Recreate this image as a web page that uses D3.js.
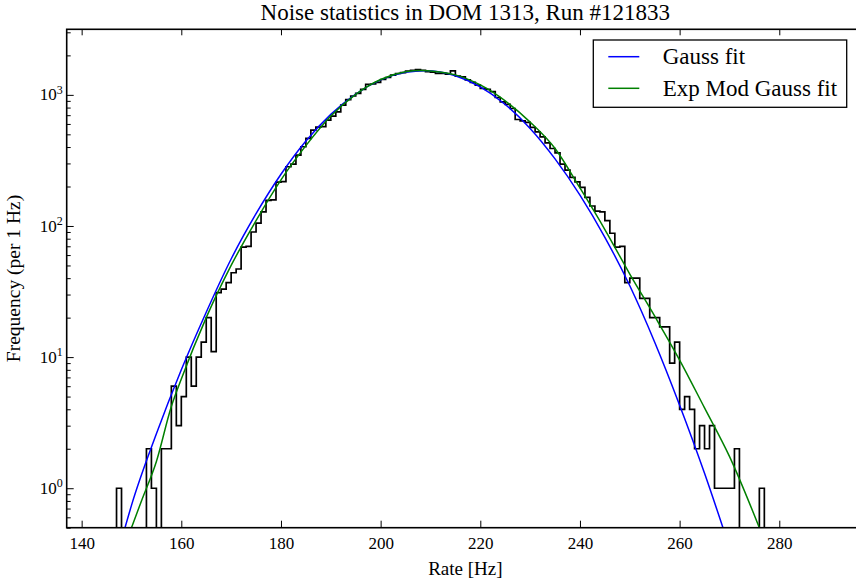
<!DOCTYPE html>
<html>
<head>
<meta charset="utf-8">
<script src="https://cdn.jsdelivr.net/npm/d3@7"></script>
<style>
  body { margin: 0; background: #fff; }
  text { font-family: "Liberation Serif", "Times New Roman", serif; fill: #000; }
</style>
</head>
<body>
<svg id="chart" width="856" height="585"></svg>
<script>
// histogram, 1 Hz bins, first bin starts at 147 Hz
var binStart = 147
var counts = [
  1, 0, 0, 0, 0, 0, 2, 1, 0, 2,
  2, 6, 3, 5, 10, 6, 10, 13, 20, 11,
  31, 33, 37, 44, 47, 69, 70, 90, 105, 128,
  157, 158, 216, 218, 283, 296, 347, 402, 465, 538,
  568, 572, 641, 688, 742, 834, 920, 980, 1025, 1100,
  1205, 1210, 1245, 1310, 1356, 1413, 1455, 1480, 1517, 1540,
  1555, 1540, 1500, 1490, 1460, 1460, 1440, 1525, 1390, 1370,
  1300, 1245, 1186, 1119, 1100, 1057, 955, 885, 845, 787,
  649, 633, 617, 565, 522, 479, 431, 390, 361, 296,
  267, 235, 217, 197, 165, 142, 130, 128, 110, 88,
  69, 70, 37, 40, 40, 28, 28, 20, 20, 17,
  17, 9, 13, 4, 5, 4, 2, 3, 2, 3,
  1, 1, 1, 1, 2, 0, 0, 0, 0, 1
]

// fit curves
var gaussX = [148.7, 150, 155, 160, 165, 170, 175, 180, 185, 190, 195, 200, 205, 209, 215, 220, 225, 230, 235, 240, 245, 250, 255, 260, 265, 268.7]
var gaussY = [0.5, 0.74, 2.6, 8.0, 22, 56, 124, 248, 445, 710, 1015, 1300, 1485, 1530, 1400, 1150, 845, 555, 325, 172, 82, 35, 13, 4.3, 1.3, 0.5]

var emgX = [150, 152, 155, 158, 160, 165, 170, 175, 180, 185, 190, 195, 200, 205, 208, 211, 215, 220, 225, 230, 235, 240, 245, 250, 255, 260, 265, 270, 276]
var emgY = [0.5, 0.8, 1.6, 4.2, 6.8, 20, 50, 110, 225, 410, 690, 1010, 1310, 1500, 1535, 1510, 1420, 1190, 900, 620, 390, 195, 94, 43, 20.5, 9.5, 4.1, 1.75, 0.5]

var xTicks = [140, 160, 180, 200, 220, 240, 260, 280]
var yTicks = [1, 10, 100, 1000]
var yExp = ["0", "1", "2", "3"]

var legendNames = ["Gauss fit", "Exp Mod Gauss fit"]
var legendColors = ["#0000ff", "#008000"]

// plot box (right edge runs past the picture)
var pL = 66.7, pR = 864, pT = 29.3, pB = 527.7

var svg = d3.select("#chart")

var x = d3.scaleLinear().domain([137, 297]).range([pL, pR])
var y = d3.scaleLog().domain([0.5, Math.pow(10, 3.5)]).range([pB, pT])

svg.append("clipPath").attr("id", "plotclip")
  .append("rect")
  .attr("x", pL).attr("y", pT)
  .attr("width", pR - pL).attr("height", pB - pT)

var plot = svg.append("g").attr("clip-path", "url(#plotclip)")

// histogram outline
var pts = [[binStart, 0]]
counts.forEach((c, i) => pts.push([binStart + i, c]))
pts.push([binStart + counts.length, 0])

var step = d3.line()
  .x(d => x(d[0]))
  .y(d => d[1] > 0 ? y(d[1]) : pB + 20)
  .curve(d3.curveStepAfter)

plot.append("path")
  .datum(pts)
  .attr("d", step)
  .attr("fill", "none")
  .attr("stroke", "#000")
  .attr("stroke-width", 1.7)

var fitLine = d3.line()
  .x(d => x(d[0]))
  .y(d => y(d[1]))
  .curve(d3.curveMonotoneX)

plot.append("path")
  .datum(d3.zip(gaussX, gaussY))
  .attr("d", fitLine)
  .attr("fill", "none")
  .attr("stroke", legendColors[0])
  .attr("stroke-width", 1.5)

plot.append("path")
  .datum(d3.zip(emgX, emgY))
  .attr("d", fitLine)
  .attr("fill", "none")
  .attr("stroke", legendColors[1])
  .attr("stroke-width", 1.5)

// axes, ticks pointing in
var xAxis = svg.append("g")
  .attr("transform", `translate(0,${pB})`)
  .call(d3.axisBottom(x).tickValues(xTicks).tickSize(-7).tickPadding(9))
svg.append("g")
  .attr("transform", `translate(0,${pT})`)
  .call(d3.axisTop(x).tickValues(xTicks).tickSize(-6).tickFormat(""))

var minor = []
for (var e = -1; e <= 3; e++) {
  for (var k = 2; k <= 9; k++) {
    var v = k * Math.pow(10, e)
    if (v >= 0.5 && v <= Math.pow(10, 3.5)) minor.push(v)
  }
}

svg.append("g")
  .attr("transform", `translate(${pL},0)`)
  .call(d3.axisLeft(y).tickValues(minor).tickSize(-4).tickFormat(""))

var yAxis = svg.append("g")
  .attr("transform", `translate(${pL},0)`)
  .call(d3.axisLeft(y).tickValues(yTicks).tickSize(-7).tickPadding(6).tickFormat(""))

svg.selectAll(".domain").remove()
svg.selectAll(".tick line").attr("stroke", "#000").attr("stroke-width", 1)

xAxis.selectAll("text")
  .style("font-size", "17px")
  .style("font-family", "Liberation Serif, serif")

var ylab = yAxis.selectAll(".tick text")
  .attr("x", -4)
  .attr("dy", "0.3em")
  .style("font-size", "17px")
  .style("font-family", "Liberation Serif, serif")
ylab.append("tspan").text("10")
ylab.append("tspan")
  .attr("dy", "-0.55em")
  .style("font-size", "12px")
  .text((d, i) => yExp[i])

// frame
svg.append("rect")
  .attr("x", pL).attr("y", pT)
  .attr("width", pR - pL).attr("height", pB - pT)
  .attr("fill", "none")
  .attr("stroke", "#000")
  .attr("stroke-width", 1.6)

// title and labels
var midX = (pL + pR) / 2
svg.append("text")
  .attr("x", midX).attr("y", 20)
  .attr("text-anchor", "middle")
  .style("font-size", "23px")
  .text("Noise statistics in DOM 1313, Run #121833")

svg.append("text")
  .attr("x", midX).attr("y", 575)
  .attr("text-anchor", "middle")
  .style("font-size", "19px")
  .text("Rate [Hz]")

svg.append("text")
  .attr("transform", `translate(20,${(pT + pB) / 2}) rotate(-90)`)
  .attr("text-anchor", "middle")
  .style("font-size", "19.5px")
  .text("Frequency (per 1 Hz)")

// legend
var legend = svg.append("g")
legend.append("rect")
  .attr("x", 593.3).attr("y", 40)
  .attr("width", 253.4).attr("height", 67.3)
  .attr("fill", "#fff")
  .attr("stroke", "#000")
  .attr("stroke-width", 1.3)

var items = legend.selectAll("g.item")
  .data(legendNames)
  .enter().append("g")
  .attr("class", "item")
  .attr("transform", (d, i) => `translate(0,${56.7 + i * 31.6})`)

items.append("line")
  .attr("x1", 608.3).attr("x2", 639.3)
  .attr("stroke", (d, i) => legendColors[i])
  .attr("stroke-width", 1.5)

items.append("text")
  .attr("x", 662.7).attr("y", 7.5)
  .style("font-size", "23px")
  .text(d => d)
</script>
</body>
</html>
